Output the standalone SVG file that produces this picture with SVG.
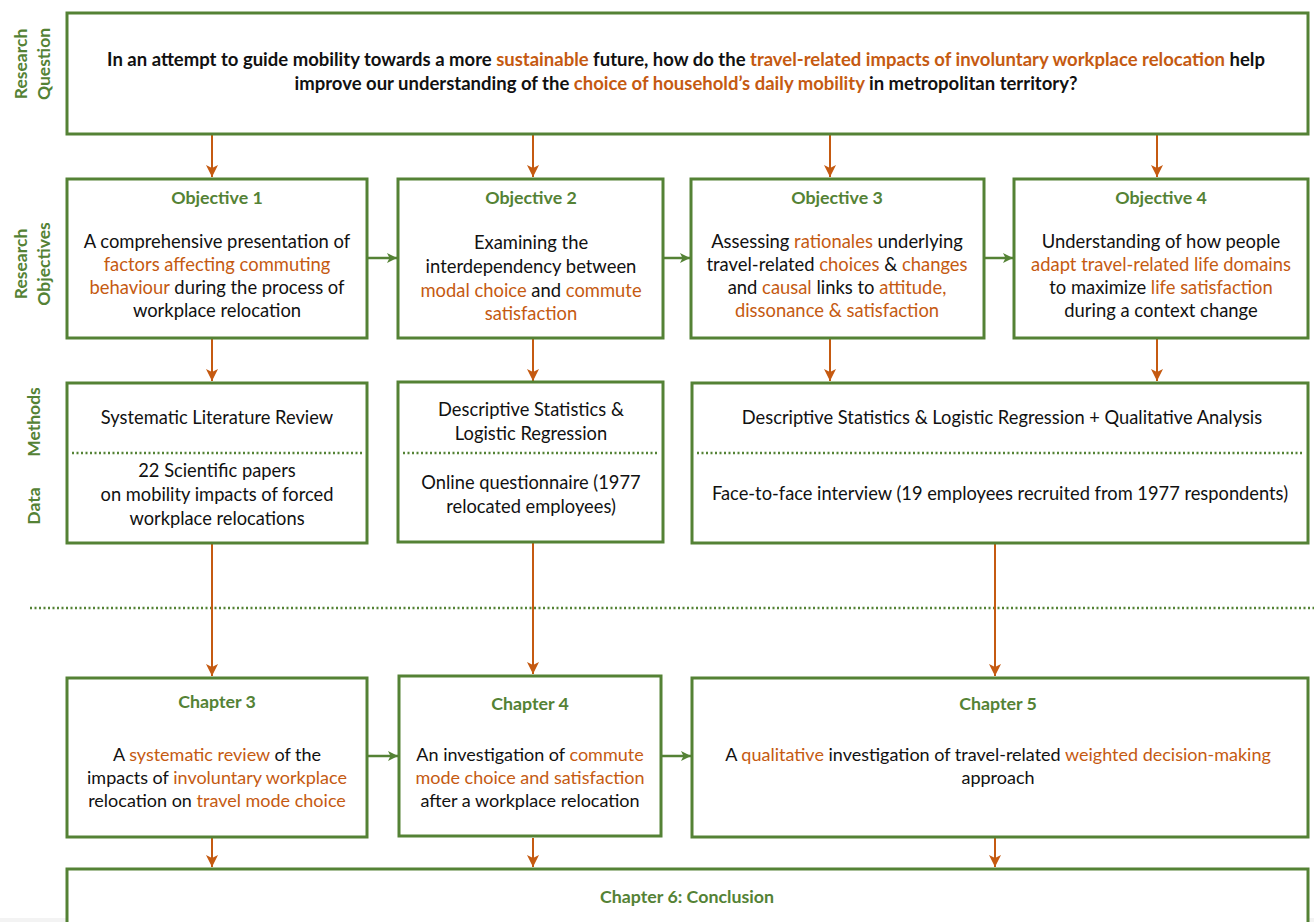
<svg xmlns="http://www.w3.org/2000/svg" width="1314" height="922" viewBox="0 0 1314 922">
  <style>
    .box { fill: #ffffff; stroke: #548235; stroke-width: 3; }
    .dots { stroke: #548235; stroke-width: 2.5; stroke-dasharray: 2 2.5; fill: none; }
    .down { stroke: #C55A11; stroke-width: 2; fill: none; marker-end: url(#arrOrange); }
    .side { stroke: #548235; stroke-width: 2.5; fill: none; marker-end: url(#arrGreen); }
    text { font-family: Lato, "Liberation Sans", sans-serif; fill: #111111; text-anchor: middle; }
    .rq { font-size: 18.5px; font-weight: bold; }
    .body { font-size: 18.4px; }
    .meth { font-size: 18.3px; }
    .chap { font-size: 18px; }
    .title { font-size: 17.8px; font-weight: bold; fill: #548235; }
    .label { font-size: 17.5px; font-weight: bold; fill: #548235; }
    .o { fill: #C55A11; }
  </style>
  <defs>
    <marker id="arrOrange" markerUnits="userSpaceOnUse" markerWidth="14" markerHeight="14" refX="12" refY="6" orient="auto">
      <path d="M0,0 L12,6 L0,12 L3,6 z" fill="#C55A11"/>
    </marker>
    <marker id="arrGreen" markerUnits="userSpaceOnUse" markerWidth="12" markerHeight="12" refX="10" refY="5" orient="auto">
      <path d="M0,0 L10,5 L0,10 L2.5,5 z" fill="#548235"/>
    </marker>
  </defs>

  <rect x="0" y="0" width="1314" height="922" fill="#ffffff"/>
  <rect x="0" y="918" width="1314" height="4" fill="#f3f3f3"/>

  <!-- row labels -->
  <g id="row-labels">
    <text class="label" transform="translate(27,64) rotate(-90)">Research</text>
    <text class="label" transform="translate(50,64) rotate(-90)">Question</text>
    <text class="label" transform="translate(27,264) rotate(-90)">Research</text>
    <text class="label" transform="translate(50,264) rotate(-90)">Objectives</text>
    <text class="label" transform="translate(40,422) rotate(-90)">Methods</text>
    <text class="label" transform="translate(40,506) rotate(-90)">Data</text>
  </g>

  <!-- separator between analysis and chapters -->
  <line class="dots" x1="30" y1="608" x2="1314" y2="608"/>

  <!-- connectors -->
  <g id="connectors">
    <line class="down" x1="212" y1="135" x2="212" y2="177"/>
    <line class="down" x1="533" y1="135" x2="533" y2="177"/>
    <line class="down" x1="830" y1="135" x2="830" y2="177"/>
    <line class="down" x1="1157" y1="135" x2="1157" y2="177"/>

    <line class="side" x1="368" y1="258" x2="397" y2="258"/>
    <line class="side" x1="664" y1="258" x2="690" y2="258"/>
    <line class="side" x1="984" y1="258" x2="1013" y2="258"/>

    <line class="down" x1="212" y1="339" x2="212" y2="381"/>
    <line class="down" x1="533" y1="339" x2="533" y2="381"/>
    <line class="down" x1="830" y1="339" x2="830" y2="381"/>
    <line class="down" x1="1157" y1="339" x2="1157" y2="381"/>

    <line class="down" x1="212" y1="543" x2="212" y2="676"/>
    <line class="down" x1="533" y1="543" x2="533" y2="674"/>
    <line class="down" x1="995" y1="544" x2="995" y2="676"/>

    <line class="side" x1="368" y1="756" x2="398" y2="756"/>
    <line class="side" x1="662" y1="756" x2="691" y2="756"/>

    <line class="down" x1="212" y1="838" x2="212" y2="867"/>
    <line class="down" x1="533" y1="838" x2="533" y2="867"/>
    <line class="down" x1="995" y1="838" x2="995" y2="867"/>
  </g>

  <!-- research question -->
  <g id="question">
    <rect class="box" x="67" y="13" width="1241" height="121"/>
    <text class="rq" x="686" y="66">In an attempt to guide mobility towards a more <tspan class="o">sustainable</tspan> future, how do the <tspan class="o">travel-related impacts of involuntary workplace relocation</tspan> help</text>
    <text class="rq" x="686" y="90">improve our understanding of the <tspan class="o">choice of household’s daily mobility</tspan> in metropolitan territory?</text>
  </g>

  <!-- objectives -->
  <g id="objective-1">
    <rect class="box" x="67" y="179" width="300" height="159"/>
    <text class="title" x="217" y="204">Objective 1</text>
    <text class="body" x="217" y="248">A comprehensive presentation of</text>
    <text class="body o" x="217" y="271">factors affecting commuting</text>
    <text class="body" x="217" y="294"><tspan class="o">behaviour</tspan> during the process of</text>
    <text class="body" x="217" y="317">workplace relocation</text>
  </g>
  <g id="objective-2">
    <rect class="box" x="398" y="179" width="265" height="159"/>
    <text class="title" x="531" y="204">Objective 2</text>
    <text class="body" x="531" y="249">Examining the</text>
    <text class="body" x="531" y="273">interdependency between</text>
    <text class="body" x="531" y="297"><tspan class="o">modal choice</tspan> and <tspan class="o">commute</tspan></text>
    <text class="body o" x="531" y="320">satisfaction</text>
  </g>
  <g id="objective-3">
    <rect class="box" x="691" y="179" width="293" height="159"/>
    <text class="title" x="837" y="204">Objective 3</text>
    <text class="body" x="837" y="248">Assessing <tspan class="o">rationales</tspan> underlying</text>
    <text class="body" x="837" y="271">travel-related <tspan class="o">choices</tspan> &amp; <tspan class="o">changes</tspan></text>
    <text class="body" x="837" y="294">and <tspan class="o">causal</tspan> links to <tspan class="o">attitude,</tspan></text>
    <text class="body o" x="837" y="317">dissonance &amp; satisfaction</text>
  </g>
  <g id="objective-4">
    <rect class="box" x="1014" y="179" width="294" height="159"/>
    <text class="title" x="1161" y="204">Objective 4</text>
    <text class="body" x="1161" y="248">Understanding of how people</text>
    <text class="body o" x="1161" y="271">adapt travel-related life domains</text>
    <text class="body" x="1161" y="294">to maximize <tspan class="o">life satisfaction</tspan></text>
    <text class="body" x="1161" y="317">during a context change</text>
  </g>

  <!-- methods and data -->
  <g id="methods-1">
    <rect class="box" x="67" y="383" width="300" height="160"/>
    <line class="dots" x1="72" y1="453" x2="363" y2="453"/>
    <text class="meth" x="217" y="424">Systematic Literature Review</text>
    <text class="meth" x="217" y="477">22 Scientific papers</text>
    <text class="meth" x="217" y="501">on mobility impacts of forced</text>
    <text class="meth" x="217" y="525">workplace relocations</text>
  </g>
  <g id="methods-2">
    <rect class="box" x="398" y="382" width="265" height="160"/>
    <line class="dots" x1="403" y1="453" x2="659" y2="453"/>
    <text class="meth" x="531" y="416">Descriptive Statistics &amp;</text>
    <text class="meth" x="531" y="440">Logistic Regression</text>
    <text class="meth" x="531" y="489">Online questionnaire (1977</text>
    <text class="meth" x="531" y="513">relocated employees)</text>
  </g>
  <g id="methods-3">
    <rect class="box" x="692" y="383" width="616" height="160"/>
    <line class="dots" x1="697" y1="453" x2="1304" y2="453"/>
    <text class="meth" x="1002" y="424">Descriptive Statistics &amp; Logistic Regression + Qualitative Analysis</text>
    <text class="meth" x="1000" y="500">Face-to-face interview (19 employees recruited from 1977 respondents)</text>
  </g>

  <!-- chapters -->
  <g id="chapter-3">
    <rect class="box" x="67" y="678" width="300" height="159"/>
    <text class="title" x="217" y="708">Chapter 3</text>
    <text class="chap" x="217" y="761">A <tspan class="o">systematic review</tspan> of the</text>
    <text class="chap" x="217" y="784">impacts of <tspan class="o">involuntary workplace</tspan></text>
    <text class="chap" x="217" y="807">relocation on <tspan class="o">travel mode choice</tspan></text>
  </g>
  <g id="chapter-4">
    <rect class="box" x="399" y="676" width="262" height="160"/>
    <text class="title" x="530" y="710">Chapter 4</text>
    <text class="chap" x="530" y="761">An investigation of <tspan class="o">commute</tspan></text>
    <text class="chap o" x="530" y="784">mode choice and satisfaction</text>
    <text class="chap" x="530" y="807">after a workplace relocation</text>
  </g>
  <g id="chapter-5">
    <rect class="box" x="692" y="678" width="616" height="159"/>
    <text class="title" x="998" y="710">Chapter 5</text>
    <text class="chap" x="998" y="761">A <tspan class="o">qualitative</tspan> investigation of travel-related <tspan class="o">weighted decision-making</tspan></text>
    <text class="chap" x="998" y="784">approach</text>
  </g>
  <g id="chapter-6">
    <rect class="box" x="67" y="869" width="1241" height="70"/>
    <text class="title" x="687" y="903">Chapter 6: Conclusion</text>
  </g>
</svg>
